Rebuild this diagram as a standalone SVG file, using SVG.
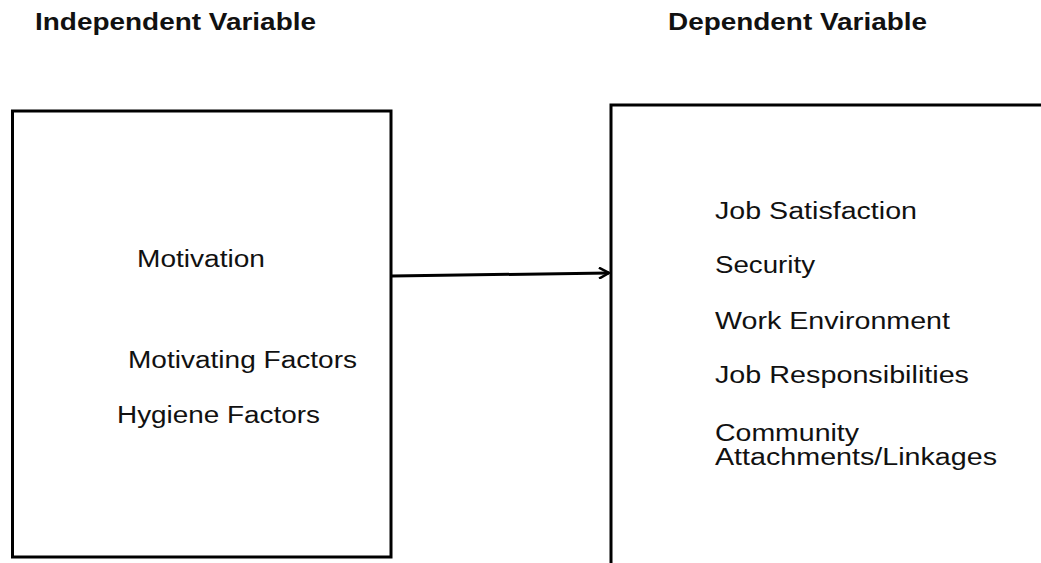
<svg xmlns="http://www.w3.org/2000/svg" width="1041" height="563" viewBox="0 0 1041 563">
<style>
.box{fill:#fff;stroke:#000;stroke-width:3}
.t{font-family:"Liberation Sans",Arial,sans-serif;font-size:23.5px;fill:#111}
.h{font-family:"Liberation Sans",Arial,sans-serif;font-size:23.5px;font-weight:bold;fill:#111}
.c{stroke:#000;stroke-width:3;fill:none}
</style>
<defs>
<marker id="arr" viewBox="0 0 12 12" refX="11" refY="6" markerWidth="12" markerHeight="12" markerUnits="userSpaceOnUse" orient="auto">
<path d="M1,0.5 L11,6 L1,11.5" fill="none" stroke="#000" stroke-width="2.5"/>
</marker>
</defs>
<rect width="1041" height="563" fill="#fff"/>
<g id="titles">
<text class="h" x="35" y="30" textLength="281" lengthAdjust="spacingAndGlyphs">Independent Variable</text>
<text class="h" x="668" y="30" textLength="259" lengthAdjust="spacingAndGlyphs">Dependent Variable</text>
</g>
<g id="independent">
<rect class="box" x="12.5" y="111" width="378.5" height="446"/>
<text class="t" x="137" y="267" textLength="128" lengthAdjust="spacingAndGlyphs">Motivation</text>
<text class="t" x="128" y="368" textLength="229" lengthAdjust="spacingAndGlyphs">Motivating Factors</text>
<text class="t" x="117" y="423" textLength="203" lengthAdjust="spacingAndGlyphs">Hygiene Factors</text>
</g>
<g id="dependent">
<rect class="box" x="611" y="105" width="440" height="470"/>
<text class="t" x="715" y="219" textLength="202" lengthAdjust="spacingAndGlyphs">Job Satisfaction</text>
<text class="t" x="715" y="273" textLength="100" lengthAdjust="spacingAndGlyphs">Security</text>
<text class="t" x="715" y="329" textLength="235" lengthAdjust="spacingAndGlyphs">Work Environment</text>
<text class="t" x="715" y="383" textLength="254" lengthAdjust="spacingAndGlyphs">Job Responsibilities</text>
<text class="t" x="715" y="441" textLength="144" lengthAdjust="spacingAndGlyphs">Community</text>
<text class="t" x="715" y="465" textLength="282" lengthAdjust="spacingAndGlyphs">Attachments/Linkages</text>
</g>
<g id="connectors">
<line class="c" x1="392" y1="276" x2="609" y2="273" marker-end="url(#arr)"/>
</g>
</svg>
